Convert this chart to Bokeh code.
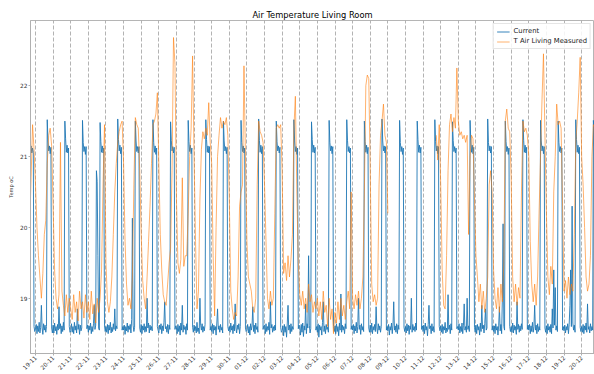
import math
import pandas as pd
from bokeh.plotting import figure
from bokeh.models import FixedTicker, DatetimeTickFormatter, Range1d
from bokeh.embed import file_html
from bokeh.resources import INLINE

nan = float("nan")

# ---------------- data ----------------
title_text = "Air Temperature Living Room"
series_names = ["Current", "T Air Living Measured"]
tick_labels = ["19-11", "20-11", "21-11", "22-11", "23-11", "24-11", "25-11", "26-11",
               "27-11", "28-11", "29-11", "30-11", "01-12", "02-12", "03-12", "04-12",
               "05-12", "06-12", "07-12", "08-12", "09-12", "10-12", "11-12", "12-12",
               "13-12", "14-12", "15-12", "16-12", "17-12", "18-12", "19-12", "20-12"]
y_ticks = [19, 20, 21, 22]

# "Current": hourly, first rows 18-11 17:00..23:00, then one row (00..23 h) per day
current_start = [21.10, 21.15, 21.05, 21.12, 21.06, 18.60, 18.53]
current_days = [
    [18.56,18.63,18.50,18.61,18.53,18.66,18.51,18.59,18.90,18.58,18.49,18.64,18.55,18.62,18.52,18.60,21.52,21.22,21.08,21.15,21.04,21.13,18.58,18.51],
    [18.62,18.51,18.65,18.54,18.60,18.49,18.63,18.55,18.88,18.57,18.64,18.50,18.61,18.53,18.66,18.55,21.50,21.25,21.06,21.16,21.05,21.12,18.60,18.52],
    [18.54,18.64,18.52,18.60,18.50,18.66,18.55,18.61,18.51,18.85,18.56,18.63,18.49,18.62,18.54,18.58,21.51,21.20,21.07,21.14,21.03,21.14,18.57,18.62],
    [18.52,18.61,18.55,18.65,18.50,18.60,18.53,18.64,18.90,18.56,18.62,20.80,20.65,19.60,18.58,18.55,21.48,21.21,21.06,21.15,21.05,21.12,18.61,18.53],
    [18.60,18.52,18.63,18.50,18.62,18.55,18.66,18.51,18.59,18.53,18.64,18.56,18.85,18.54,18.61,18.57,21.53,21.24,21.08,21.16,21.04,21.13,18.55,18.60],
    [18.55,18.62,18.49,18.60,18.54,18.65,18.52,18.61,18.56,18.63,18.51,18.70,20.13,18.62,18.53,18.59,21.50,21.22,21.07,21.14,21.05,21.14,18.58,18.52],
    [18.63,18.50,18.61,18.55,18.64,18.52,18.60,18.53,19.00,18.58,18.65,18.51,18.62,18.55,18.60,18.54,21.52,21.20,21.06,21.15,21.03,21.12,18.60,18.55],
    [18.51,18.62,18.56,18.64,18.50,18.61,18.54,18.66,18.95,18.57,18.60,18.52,18.63,18.50,18.62,18.56,21.49,21.23,21.08,21.14,21.05,21.13,18.56,18.61],
    [18.58,18.50,18.63,18.53,18.61,18.48,18.65,18.55,18.90,18.52,18.62,18.56,18.60,18.49,18.64,18.55,21.51,21.21,21.07,21.16,21.04,21.12,18.59,18.52],
    [18.62,18.54,18.60,18.51,18.66,18.53,18.58,18.50,19.00,18.62,18.55,18.64,18.52,18.60,18.54,18.63,21.52,21.24,21.06,21.15,21.05,21.14,18.55,18.60],
    [18.53,18.64,18.50,18.62,18.55,18.60,18.48,18.65,18.85,18.56,18.61,18.52,18.63,18.55,18.59,18.51,21.50,21.22,21.08,21.14,21.04,21.13,18.60,18.54],
    [18.60,18.52,18.65,18.55,18.61,18.50,18.63,18.54,18.92,18.58,18.51,18.62,18.56,18.64,18.50,18.60,21.51,21.20,21.07,21.15,21.05,21.12,18.58,18.53],
    [18.55,18.63,18.51,18.60,18.48,18.64,18.55,18.61,18.88,18.53,18.62,18.50,18.65,18.56,18.60,18.52,21.53,21.23,21.06,21.16,21.04,21.14,18.56,18.61],
    [18.62,18.50,18.64,18.53,18.60,18.55,18.66,18.49,18.95,18.58,18.63,18.52,18.60,18.54,18.62,18.55,21.50,21.21,21.08,21.15,21.05,21.13,18.59,18.52],
    [18.54,18.61,18.47,18.63,18.52,18.60,18.45,18.65,18.90,18.55,18.62,18.50,18.64,18.53,18.60,18.56,21.52,21.22,21.07,21.14,21.03,21.12,18.57,18.62],
    [18.60,18.48,18.63,18.52,18.65,18.46,18.61,18.55,18.92,18.50,18.64,18.58,19.60,18.62,18.51,18.57,21.49,21.24,21.06,21.16,21.05,21.13,18.55,18.60],
    [18.52,18.64,18.45,18.62,18.55,18.60,18.48,18.66,18.95,18.53,18.61,18.50,18.63,18.56,18.59,18.52,21.51,21.20,21.08,21.15,21.04,21.14,18.60,18.53],
    [18.61,18.50,18.64,18.53,18.60,18.47,18.65,18.55,19.06,18.52,18.62,18.55,18.60,18.50,18.64,18.57,21.52,21.23,21.07,21.14,21.05,21.12,18.56,18.61],
    [18.55,18.63,18.50,18.61,18.54,18.66,18.51,18.60,19.00,18.56,18.62,18.49,18.64,18.55,18.60,18.53,21.50,21.21,21.06,21.16,21.04,21.13,18.58,18.52],
    [18.62,18.52,18.65,18.50,18.60,18.55,18.63,18.53,18.88,18.58,18.50,18.64,18.55,18.61,18.52,18.60,21.53,21.22,21.08,21.15,21.05,21.14,18.55,18.60],
    [18.54,18.63,18.48,18.60,18.55,18.65,18.50,18.62,18.95,18.55,18.61,18.52,18.64,18.50,18.62,18.56,21.51,21.20,21.07,21.14,21.03,21.12,18.59,18.53],
    [18.60,18.51,18.64,18.54,18.62,18.49,18.61,18.56,19.00,18.52,18.63,18.55,18.60,18.53,18.65,18.55,21.50,21.24,21.06,21.16,21.05,21.13,18.56,18.61],
    [18.53,18.62,18.50,18.65,18.55,18.60,18.47,18.63,18.90,18.57,18.61,18.50,18.64,18.54,18.60,18.52,21.52,21.21,21.08,21.15,21.04,21.14,18.60,18.54],
    [18.61,18.52,18.63,18.50,18.60,18.55,18.66,18.51,18.58,18.53,19.05,18.56,18.62,18.50,18.64,18.55,21.49,21.23,21.07,21.14,21.05,21.12,18.57,18.60],
    [18.55,18.64,18.51,18.60,18.53,18.65,18.50,18.62,18.92,18.55,18.60,18.52,19.00,18.56,18.61,18.53,21.51,21.22,21.06,21.16,21.04,21.13,18.59,18.52],
    [18.62,18.50,18.63,18.55,18.60,18.48,18.65,18.53,18.90,18.57,18.62,18.51,18.64,18.85,18.55,18.58,21.53,21.20,21.08,21.15,21.05,21.14,18.55,18.61],
    [18.53,18.61,18.50,18.64,18.55,18.60,18.48,18.62,18.88,18.54,18.63,18.50,19.00,20.05,18.60,18.55,21.50,21.21,21.07,21.14,21.03,21.12,18.60,18.53],
    [18.60,18.52,18.65,18.51,18.62,18.55,18.60,18.49,18.95,18.56,18.63,18.52,18.61,18.54,18.64,18.56,21.52,21.23,21.06,21.16,21.05,21.13,18.56,18.62],
    [18.55,18.63,18.50,18.61,18.53,18.66,18.52,18.60,18.90,18.55,18.62,18.50,18.64,18.53,18.60,18.55,21.51,21.22,21.08,21.15,21.04,21.14,18.58,18.52],
    [18.61,18.50,18.64,18.55,18.60,18.52,18.63,18.50,18.85,18.58,19.40,18.62,19.15,18.55,18.61,18.53,21.50,21.20,21.07,21.14,21.05,21.12,18.55,18.60],
    [18.54,18.62,18.51,18.60,18.55,18.64,18.50,18.63,18.90,19.40,18.60,20.30,18.65,18.55,18.62,18.52,21.52,21.24,21.06,21.16,21.04,21.13,18.59,18.53],
    [18.60,18.52,18.63,18.50,18.61,18.55,18.65,18.52,18.92,18.56,18.60,18.51,18.64,18.54,18.60,18.55,21.51,21.21,21.08,21.15,21.05,21.14,18.57,18.60],
]

# "T Air Living Measured": 2-hourly, first rows 18-11 16:00..22:00, then one row (00..22 h) per day
measured_start = [20.0, 20.7, 21.45, 21.1]
measured_days = [
    [20.6, 20.0, 19.6, 19.3, 19.0, 19.35, 19.9, 20.1, 20.9, 21.3, 21.4, 21.15],
    [20.3, 19.4, 19.0, 18.85, 19.05, 21.2, 19.1, 18.9, 18.75, 19.05, 18.8, 19.0],
    [18.85, 18.7, 19.05, 18.8, 18.95, 18.68, 19.1, 18.85, 18.95, 18.72, 19.05, 18.8],
    [18.95, 18.7, 19.1, 18.78, 18.92, 18.65, 19.0, 18.8, 19.0, 19.4, 20.6, 21.45],
    [19.5, 18.95, 18.8, 18.95, 19.3, 19.9, 20.5, 20.9, 21.2, 21.35, 21.45, 21.5],
    [20.9, 19.8, 19.2, 18.9, 19.0, 18.85, 19.3, 20.6, 21.55, 21.45, 21.4, 20.8],
    [19.9, 19.25, 19.0, 18.85, 19.3, 19.8, 20.3, 20.9, 21.45, 21.5, 21.6, 21.9],
    [20.9, 19.9, 19.4, 19.05, 18.95, 18.9, 19.2, 19.5, 19.7, 20.8, 22.68, 22.3],
    [20.4, 19.5, 19.35, 19.55, 20.7, 19.45, 19.6, 19.6, 20.2, 21.0, 21.4, 22.42],
    [21.0, 19.8, 18.85, 19.1, 20.4, 21.1, 21.35, 21.25, 21.4, 21.3, 21.76, 21.2],
    [20.9, 19.6, 18.75, 20.0, 21.0, 21.3, 21.55, 21.4, 21.5, 21.45, 21.55, 21.3],
    [20.4, 19.1, 18.85, 18.7, 18.8, 18.75, 19.3, 20.3, 20.5, 20.6, 22.28, 21.0],
    [19.8, 19.3, 19.2, 19.1, 18.85, 18.8, 19.0, 20.6, 21.5, 21.35, 21.3, 21.2],
    [20.6, 19.8, 19.0, 18.85, 19.1, 18.9, 19.0, 20.2, 21.4, 21.45, 21.4, 21.45],
    [20.8, 19.35, 19.5, 19.25, 19.6, 19.3, 19.55, 19.9, 21.4, 21.85, 20.5, 19.5],
    [19.05, 18.9, 19.1, 18.85, 19.0, 18.8, 19.2, 18.95, 19.05, 18.8, 18.95, 18.85],
    [19.0, 18.75, 18.95, 18.7, 19.1, 18.8, 18.9, 18.6, 19.0, 18.7, 18.85, 18.5],
    [18.8, 18.65, 18.95, 18.7, 19.0, 18.75, 18.9, 18.7, 18.95, 19.1, 18.85, 20.5],
    [19.0, 18.85, 19.05, 18.9, 19.1, 18.85, 19.0, 19.3, 20.5, 22.0, 22.15, 22.1],
    [20.8, 19.2, 18.95, 19.05, 18.9, 19.0, 20.6, 21.3, 21.5, 21.74, 21.3, 21.2],
    [20.2, nan, nan, nan, nan, nan, nan, nan, nan, nan, nan, nan],
    [nan, nan, nan, nan, nan, nan, nan, nan, nan, nan, nan, nan],
    [nan, nan, nan, nan, nan, nan, nan, nan, nan, 21.3, 20.95, 21.45],
    [20.6, 19.4, 18.9, 18.85, 19.6, 20.8, 21.45, 21.6, 21.35, 21.55, 21.4, 22.25],
    [21.5, 21.3, 21.35, 21.25, 21.3, 21.2, 21.3, 19.9, 21.0, 21.3, 21.25, 20.4],
    [19.6, 19.3, 18.95, 19.2, 18.85, 19.1, 18.8, 19.0, 19.3, 20.6, 20.8, 20.5],
    [19.4, 19.0, 18.85, 19.15, 18.8, 19.2, 18.95, 19.5, 21.5, 21.67, 21.4, 21.35],
    [20.7, 19.3, 18.95, 19.2, 18.9, 19.15, 19.0, 20.5, 21.5, 21.35, 21.4, 21.3],
    [21.0, 19.8, 19.2, 18.95, 19.2, 18.9, 19.3, 20.2, 21.0, 21.8, 22.45, 21.3],
    [20.2, 19.3, 19.05, 19.45, 19.2, 20.5, 21.0, 21.74, 21.45, 21.5, 21.4, 20.3],
    [19.1, 19.25, 19.0, 19.3, 19.05, 19.2, 19.1, 19.9, 21.2, 21.5, 21.9, 22.4],
    [21.0, 20.6, 20.0, 19.3, 19.1, 19.2, 19.6, 21.0, 21.45, 21.4, 21.45, 21.45],
]

# ---------------- assemble ----------------
current = current_start + [v for day in current_days for v in day]
measured = measured_start + [v for day in measured_days for v in day]
current_t = pd.date_range("2019-11-18 17:00", periods=len(current), freq="h")
measured_t = pd.date_range("2019-11-18 16:00", periods=len(measured), freq="2h")
tick_dates = pd.date_range("2019-11-19", periods=len(tick_labels), freq="D")
tick_ms = [float(d.value // 10**6) for d in tick_dates]

FONT = "DejaVu Sans"

p = figure(width=594, height=374, x_axis_type="datetime",
           output_backend="svg", toolbar_location=None,
           title=title_text,
           x_range=Range1d(pd.Timestamp("2019-11-18 17:11"), pd.Timestamp("2019-12-20 17:30")),
           y_range=Range1d(18.22, 22.92),
           min_border_left=30, min_border_right=0, min_border_top=20, min_border_bottom=0)

p.title.align = "center"
p.title.text_font = FONT
p.title.text_font_size = "8.3px"
p.title.text_font_style = "normal"
p.title.text_color = "#000000"
p.title.standoff = 2

p.line(current_t, current, color="#1f77b4", alpha=1.0, line_width=0.9, legend_label=series_names[0])
p.line(measured_t, measured, color="#ff7f0e", alpha=0.8, line_width=0.75, legend_label=series_names[1])

xt = FixedTicker(ticks=tick_ms)
p.xaxis.ticker = xt
p.xgrid.ticker = xt
fmt = "%d-%m"
p.xaxis.formatter = DatetimeTickFormatter(microseconds=fmt, milliseconds=fmt, seconds=fmt,
                                          minsec=fmt, minutes=fmt, hourmin=fmt, hours=fmt,
                                          days=fmt, months=fmt, years=fmt)
p.xaxis.major_label_orientation = math.pi / 4
p.yaxis.ticker = FixedTicker(ticks=y_ticks)
p.yaxis.axis_label = "Temp oC"

for ax in (p.xaxis[0], p.yaxis[0]):
    ax.axis_line_color = "#b0b0b0"
    ax.major_tick_line_color = "#b0b0b0"
    ax.major_tick_in = 0
    ax.major_tick_out = 2
    ax.minor_tick_line_color = None
    ax.major_label_text_font = FONT
    ax.major_label_text_font_size = "5.8px"
    ax.major_label_text_color = "#333333"
    ax.major_label_standoff = 1
    ax.axis_label_text_font = FONT
    ax.axis_label_text_font_size = "5px"
    ax.axis_label_text_font_style = "normal"
    ax.axis_label_text_color = "#333333"
    ax.axis_label_standoff = 3

p.xgrid.grid_line_color = "#a0a0a0"
p.xgrid.grid_line_dash = "4 2"
p.xgrid.grid_line_width = 0.8
p.ygrid.grid_line_color = None
p.outline_line_color = "#b5b5b5"
p.outline_line_width = 1
p.background_fill_color = "white"
p.border_fill_color = "white"

lg = p.legend[0]
lg.location = "top_right"
lg.label_text_font = FONT
lg.label_text_font_size = "6.8px"
lg.label_text_color = "#222222"
lg.glyph_width = 13
lg.glyph_height = 7
lg.label_height = 7
lg.label_standoff = 4
lg.spacing = 2
lg.padding = 3
lg.margin = 3
lg.border_line_color = "#cccccc"
lg.background_fill_alpha = 0.85

open("out.html", "w").write(file_html(p, INLINE))
